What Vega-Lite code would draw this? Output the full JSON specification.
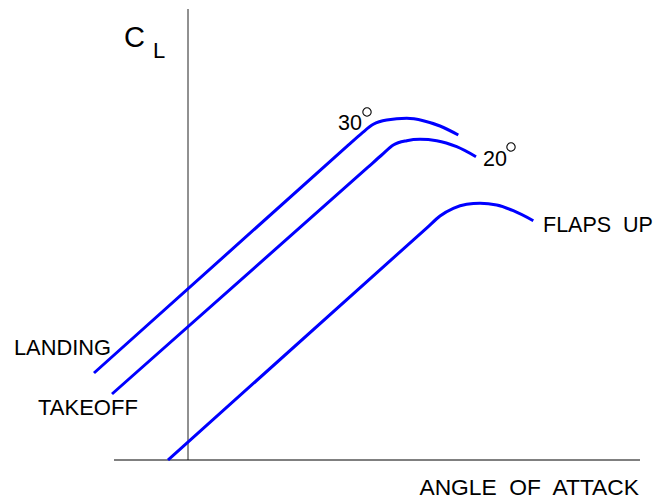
{
  "$schema": "https://vega.github.io/schema/vega-lite/v6.json",
  "width": 658,
  "height": 502,
  "autosize": "none",
  "padding": 0,
  "background": "white",
  "config": {"view": {"stroke": null}, "axis": {"disable": true}},
  "datasets": {
    "curves": [
      {"series": "landing", "aoa": -4.7, "cl": 0.435},
      {"series": "landing", "aoa": 8.0, "cl": 1.573},
      {"series": "landing", "aoa": 8.685, "cl": 1.6335},
      {"series": "landing", "aoa": 9.265, "cl": 1.6785},
      {"series": "landing", "aoa": 9.935, "cl": 1.7},
      {"series": "landing", "aoa": 10.935, "cl": 1.7085},
      {"series": "landing", "aoa": 11.765, "cl": 1.6965},
      {"series": "landing", "aoa": 12.6, "cl": 1.67},
      {"series": "landing", "aoa": 13.515, "cl": 1.625},
      {"series": "takeoff", "aoa": -3.8, "cl": 0.33},
      {"series": "takeoff", "aoa": 9.0, "cl": 1.464},
      {"series": "takeoff", "aoa": 9.685, "cl": 1.525},
      {"series": "takeoff", "aoa": 10.265, "cl": 1.575},
      {"series": "takeoff", "aoa": 10.935, "cl": 1.5965},
      {"series": "takeoff", "aoa": 11.6, "cl": 1.6035},
      {"series": "takeoff", "aoa": 12.435, "cl": 1.5965},
      {"series": "takeoff", "aoa": 13.435, "cl": 1.5665},
      {"series": "takeoff", "aoa": 14.4, "cl": 1.5165},
      {"series": "flapsup", "aoa": -1.0, "cl": 0.0},
      {"series": "flapsup", "aoa": 12.0, "cl": 1.166},
      {"series": "flapsup", "aoa": 12.6, "cl": 1.22},
      {"series": "flapsup", "aoa": 13.265, "cl": 1.2585},
      {"series": "flapsup", "aoa": 13.935, "cl": 1.2785},
      {"series": "flapsup", "aoa": 14.6, "cl": 1.2835},
      {"series": "flapsup", "aoa": 15.435, "cl": 1.275},
      {"series": "flapsup", "aoa": 16.265, "cl": 1.2465},
      {"series": "flapsup", "aoa": 17.265, "cl": 1.1965}
    ],
    "leftlabels": [
      {"text": "LANDING", "aoa": -8.7, "cl": 0.525, "size": 21.8},
      {"text": "TAKEOFF", "aoa": -7.5, "cl": 0.225, "size": 22},
      {"text": "30", "aoa": 7.5, "cl": 1.65, "size": 21.5},
      {"text": "20", "aoa": 14.75, "cl": 1.47, "size": 21.5},
      {"text": "FLAPS\u00a0 UP", "aoa": 17.75, "cl": 1.14, "size": 21.5},
      {"text": "C", "aoa": -3.2, "cl": 2.065, "size": 29},
      {"text": "L", "aoa": -1.75, "cl": 2.01, "size": 22}
    ],
    "rightlabels": [
      {"text": "ANGLE\u00a0 OF\u00a0 ATTACK", "aoa": 22.55, "cl": -0.175, "size": 22.8}
    ],
    "degrees": [
      {"aoa": 8.95, "cl": 1.74},
      {"aoa": 16.15, "cl": 1.565}
    ],
    "vaxis": [{"aoa": 0, "cl": 0, "cl2": 2.255}],
    "haxis": [{"aoa": -3.7, "aoa2": 22.6, "cl": 0}]
  },
  "layer": [
    {
      "data": {"name": "vaxis"},
      "mark": {"type": "rule", "color": "#222222", "strokeWidth": 1},
      "encoding": {
        "x": {"field": "aoa", "type": "quantitative", "scale": {"domain": [-9.4, 23.5], "nice": false, "zero": false}},
        "y": {"field": "cl", "type": "quantitative", "scale": {"domain": [-0.21, 2.3], "nice": false, "zero": false}},
        "y2": {"field": "cl2"}
      }
    },
    {
      "data": {"name": "haxis"},
      "mark": {"type": "rule", "color": "#000000", "strokeWidth": 1},
      "encoding": {
        "x": {"field": "aoa", "type": "quantitative", "scale": {"domain": [-9.4, 23.5], "nice": false, "zero": false}},
        "x2": {"field": "aoa2"},
        "y": {"field": "cl", "type": "quantitative", "scale": {"domain": [-0.21, 2.3], "nice": false, "zero": false}}
      }
    },
    {
      "data": {"name": "curves"},
      "mark": {"type": "line", "color": "#0000ff", "strokeWidth": 3, "interpolate": "monotone"},
      "encoding": {
        "x": {"field": "aoa", "type": "quantitative", "scale": {"domain": [-9.4, 23.5], "nice": false, "zero": false}},
        "y": {"field": "cl", "type": "quantitative", "scale": {"domain": [-0.21, 2.3], "nice": false, "zero": false}},
        "detail": {"field": "series", "type": "nominal"}
      }
    },
    {
      "data": {"name": "leftlabels"},
      "mark": {"type": "text", "font": "Liberation Sans", "color": "#000000", "baseline": "alphabetic", "align": "left"},
      "encoding": {
        "x": {"field": "aoa", "type": "quantitative", "scale": {"domain": [-9.4, 23.5], "nice": false, "zero": false}},
        "y": {"field": "cl", "type": "quantitative", "scale": {"domain": [-0.21, 2.3], "nice": false, "zero": false}},
        "text": {"field": "text"},
        "size": {"field": "size", "type": "quantitative", "scale": null}
      }
    },
    {
      "data": {"name": "rightlabels"},
      "mark": {"type": "text", "font": "Liberation Sans", "color": "#000000", "baseline": "alphabetic", "align": "right"},
      "encoding": {
        "x": {"field": "aoa", "type": "quantitative", "scale": {"domain": [-9.4, 23.5], "nice": false, "zero": false}},
        "y": {"field": "cl", "type": "quantitative", "scale": {"domain": [-0.21, 2.3], "nice": false, "zero": false}},
        "text": {"field": "text"},
        "size": {"field": "size", "type": "quantitative", "scale": null}
      }
    },
    {
      "data": {"name": "degrees"},
      "mark": {"type": "point", "shape": "circle", "filled": false, "color": "#000000", "strokeWidth": 1.1, "size": 70, "opacity": 1},
      "encoding": {
        "x": {"field": "aoa", "type": "quantitative", "scale": {"domain": [-9.4, 23.5], "nice": false, "zero": false}},
        "y": {"field": "cl", "type": "quantitative", "scale": {"domain": [-0.21, 2.3], "nice": false, "zero": false}}
      }
    }
  ]
}
